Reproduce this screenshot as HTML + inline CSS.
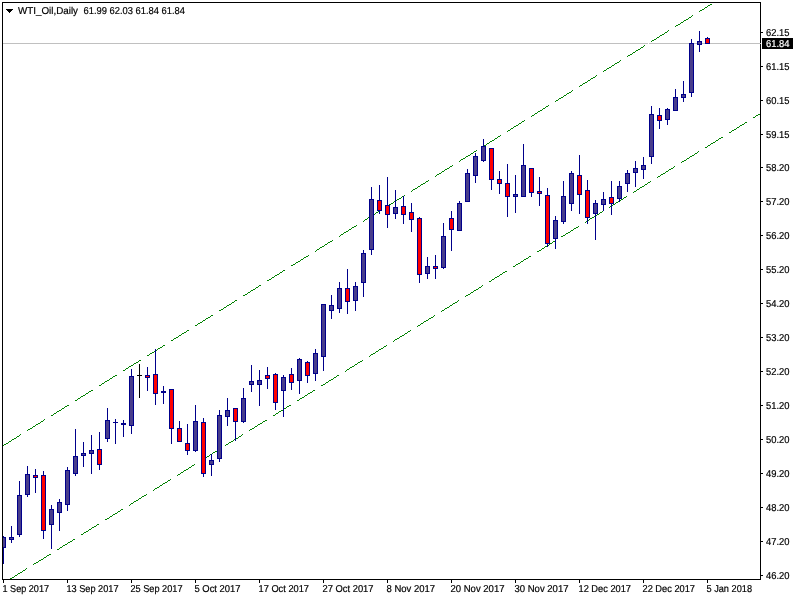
<!DOCTYPE html>
<html lang="en"><head><meta charset="utf-8"><title>WTI_Oil,Daily</title>
<style>html,body{margin:0;padding:0;background:#fff;overflow:hidden}svg{display:block}text{font-family:"Liberation Sans",Arial,sans-serif;fill:#000;stroke:#000;stroke-width:.2px;text-rendering:geometricPrecision}</style>
</head><body>
<svg width="800" height="600" viewBox="0 0 800 600" shape-rendering="crispEdges">
<rect x="0" y="0" width="800" height="600" fill="#fff"/>
<rect x="3" y="43" width="757" height="1" fill="#c0c0c0"/>
<rect x="648" y="43" width="1" height="1" fill="#fff"/>
<path fill="#008000" d="M3 445h1v1h-1zM4 444h2v1h-2zM6 443h2v1h-2zM8 442h1v1h-1zM9 441h2v1h-2zM11 440h1v1h-1zM12 439h2v1h-2zM14 438h2v1h-2zM16 437h1v1h-1zM17 436h2v1h-2zM19 435h1v1h-1zM20 434h1v1h-1zM27 430h1v1h-1zM28 429h2v1h-2zM30 428h2v1h-2zM32 427h1v1h-1zM33 426h2v1h-2zM35 425h1v1h-1zM36 424h2v1h-2zM38 423h2v1h-2zM40 422h1v1h-1zM41 421h2v1h-2zM43 420h1v1h-1zM44 419h1v1h-1zM51 415h2v1h-2zM53 414h1v1h-1zM54 413h2v1h-2zM56 412h1v1h-1zM57 411h2v1h-2zM59 410h2v1h-2zM61 409h1v1h-1zM62 408h2v1h-2zM64 407h1v1h-1zM65 406h2v1h-2zM67 405h2v1h-2zM75 400h2v1h-2zM77 399h1v1h-1zM78 398h2v1h-2zM80 397h1v1h-1zM81 396h2v1h-2zM83 395h2v1h-2zM85 394h1v1h-1zM86 393h2v1h-2zM88 392h1v1h-1zM89 391h2v1h-2zM91 390h2v1h-2zM99 385h2v1h-2zM101 384h1v1h-1zM102 383h2v1h-2zM104 382h1v1h-1zM105 381h2v1h-2zM107 380h2v1h-2zM109 379h1v1h-1zM110 378h2v1h-2zM112 377h1v1h-1zM113 376h2v1h-2zM115 375h2v1h-2zM123 370h2v1h-2zM125 369h1v1h-1zM126 368h2v1h-2zM128 367h1v1h-1zM129 366h2v1h-2zM131 365h2v1h-2zM133 364h1v1h-1zM134 363h2v1h-2zM136 362h2v1h-2zM138 361h1v1h-1zM139 360h2v1h-2zM147 355h2v1h-2zM149 354h1v1h-1zM150 353h2v1h-2zM152 352h2v1h-2zM154 351h1v1h-1zM155 350h2v1h-2zM157 349h1v1h-1zM158 348h2v1h-2zM160 347h2v1h-2zM162 346h1v1h-1zM163 345h2v1h-2zM171 340h2v1h-2zM173 339h1v1h-1zM174 338h2v1h-2zM176 337h2v1h-2zM178 336h1v1h-1zM179 335h2v1h-2zM181 334h1v1h-1zM182 333h2v1h-2zM184 332h2v1h-2zM186 331h1v1h-1zM187 330h2v1h-2zM195 325h2v1h-2zM197 324h1v1h-1zM198 323h2v1h-2zM200 322h2v1h-2zM202 321h1v1h-1zM203 320h2v1h-2zM205 319h1v1h-1zM206 318h2v1h-2zM208 317h2v1h-2zM210 316h1v1h-1zM211 315h2v1h-2zM219 310h2v1h-2zM221 309h2v1h-2zM223 308h1v1h-1zM224 307h2v1h-2zM226 306h1v1h-1zM227 305h2v1h-2zM229 304h2v1h-2zM231 303h1v1h-1zM232 302h2v1h-2zM234 301h1v1h-1zM235 300h2v1h-2zM243 295h2v1h-2zM245 294h2v1h-2zM247 293h1v1h-1zM248 292h2v1h-2zM250 291h1v1h-1zM251 290h2v1h-2zM253 289h2v1h-2zM255 288h1v1h-1zM256 287h2v1h-2zM258 286h1v1h-1zM259 285h2v1h-2zM267 280h2v1h-2zM269 279h2v1h-2zM271 278h1v1h-1zM272 277h2v1h-2zM274 276h1v1h-1zM275 275h2v1h-2zM277 274h2v1h-2zM279 273h1v1h-1zM280 272h2v1h-2zM282 271h1v1h-1zM283 270h2v1h-2zM291 265h2v1h-2zM293 264h2v1h-2zM295 263h1v1h-1zM296 262h2v1h-2zM298 261h2v1h-2zM300 260h1v1h-1zM301 259h2v1h-2zM303 258h1v1h-1zM304 257h2v1h-2zM306 256h2v1h-2zM308 255h1v1h-1zM315 251h1v1h-1zM316 250h1v1h-1zM317 249h2v1h-2zM319 248h1v1h-1zM320 247h2v1h-2zM322 246h2v1h-2zM324 245h1v1h-1zM325 244h2v1h-2zM327 243h1v1h-1zM328 242h2v1h-2zM330 241h2v1h-2zM332 240h1v1h-1zM339 236h1v1h-1zM340 235h1v1h-1zM341 234h2v1h-2zM343 233h1v1h-1zM344 232h2v1h-2zM346 231h2v1h-2zM348 230h1v1h-1zM349 229h2v1h-2zM351 228h1v1h-1zM352 227h2v1h-2zM354 226h2v1h-2zM356 225h1v1h-1zM363 221h1v1h-1zM364 220h1v1h-1zM365 219h2v1h-2zM367 218h1v1h-1zM368 217h2v1h-2zM370 216h2v1h-2zM372 215h1v1h-1zM373 214h2v1h-2zM375 213h1v1h-1zM376 212h2v1h-2zM378 211h2v1h-2zM380 210h1v1h-1zM387 206h1v1h-1zM388 205h1v1h-1zM389 204h2v1h-2zM391 203h2v1h-2zM393 202h1v1h-1zM394 201h2v1h-2zM396 200h1v1h-1zM397 199h2v1h-2zM399 198h2v1h-2zM401 197h1v1h-1zM402 196h2v1h-2zM404 195h1v1h-1zM411 191h1v1h-1zM412 190h1v1h-1zM413 189h2v1h-2zM415 188h2v1h-2zM417 187h1v1h-1zM418 186h2v1h-2zM420 185h1v1h-1zM421 184h2v1h-2zM423 183h2v1h-2zM425 182h1v1h-1zM426 181h2v1h-2zM428 180h1v1h-1zM435 176h1v1h-1zM436 175h1v1h-1zM437 174h2v1h-2zM439 173h2v1h-2zM441 172h1v1h-1zM442 171h2v1h-2zM444 170h1v1h-1zM445 169h2v1h-2zM447 168h2v1h-2zM449 167h1v1h-1zM450 166h2v1h-2zM452 165h1v1h-1zM459 161h1v1h-1zM460 160h1v1h-1zM461 159h2v1h-2zM463 158h2v1h-2zM465 157h1v1h-1zM466 156h2v1h-2zM468 155h2v1h-2zM470 154h1v1h-1zM471 153h2v1h-2zM473 152h1v1h-1zM474 151h2v1h-2zM476 150h1v1h-1zM483 146h1v1h-1zM484 145h2v1h-2zM486 144h1v1h-1zM487 143h2v1h-2zM489 142h1v1h-1zM490 141h2v1h-2zM492 140h2v1h-2zM494 139h1v1h-1zM495 138h2v1h-2zM497 137h1v1h-1zM498 136h2v1h-2zM500 135h1v1h-1zM507 131h1v1h-1zM508 130h2v1h-2zM510 129h1v1h-1zM511 128h2v1h-2zM513 127h1v1h-1zM514 126h2v1h-2zM516 125h2v1h-2zM518 124h1v1h-1zM519 123h2v1h-2zM521 122h1v1h-1zM522 121h2v1h-2zM524 120h1v1h-1zM531 116h1v1h-1zM532 115h2v1h-2zM534 114h1v1h-1zM535 113h2v1h-2zM537 112h1v1h-1zM538 111h2v1h-2zM540 110h2v1h-2zM542 109h1v1h-1zM543 108h2v1h-2zM545 107h1v1h-1zM546 106h2v1h-2zM548 105h1v1h-1zM555 101h1v1h-1zM556 100h2v1h-2zM558 99h1v1h-1zM559 98h2v1h-2zM561 97h2v1h-2zM563 96h1v1h-1zM564 95h2v1h-2zM566 94h1v1h-1zM567 93h2v1h-2zM569 92h2v1h-2zM571 91h1v1h-1zM572 90h1v1h-1zM579 86h1v1h-1zM580 85h2v1h-2zM582 84h1v1h-1zM583 83h2v1h-2zM585 82h2v1h-2zM587 81h1v1h-1zM588 80h2v1h-2zM590 79h1v1h-1zM591 78h2v1h-2zM593 77h2v1h-2zM595 76h1v1h-1zM596 75h1v1h-1zM603 71h1v1h-1zM604 70h2v1h-2zM606 69h1v1h-1zM607 68h2v1h-2zM609 67h2v1h-2zM611 66h1v1h-1zM612 65h2v1h-2zM614 64h1v1h-1zM615 63h2v1h-2zM617 62h2v1h-2zM619 61h1v1h-1zM620 60h1v1h-1zM627 56h1v1h-1zM628 55h2v1h-2zM630 54h2v1h-2zM632 53h1v1h-1zM633 52h2v1h-2zM635 51h1v1h-1zM636 50h2v1h-2zM638 49h2v1h-2zM640 48h1v1h-1zM641 47h2v1h-2zM643 46h1v1h-1zM644 45h1v1h-1zM651 41h1v1h-1zM652 40h2v1h-2zM654 39h2v1h-2zM656 38h1v1h-1zM657 37h2v1h-2zM659 36h1v1h-1zM660 35h2v1h-2zM662 34h2v1h-2zM664 33h1v1h-1zM665 32h2v1h-2zM667 31h1v1h-1zM668 30h1v1h-1zM675 26h1v1h-1zM676 25h2v1h-2zM678 24h2v1h-2zM680 23h1v1h-1zM681 22h2v1h-2zM683 21h1v1h-1zM684 20h2v1h-2zM686 19h2v1h-2zM688 18h1v1h-1zM689 17h2v1h-2zM691 16h1v1h-1zM692 15h1v1h-1zM699 11h1v1h-1zM700 10h2v1h-2zM702 9h2v1h-2zM704 8h1v1h-1zM705 7h2v1h-2zM707 6h1v1h-1zM708 5h2v1h-2zM710 4h2v1h-2z"/>
<path fill="#008000" d="M10 578h2v1h-2zM12 577h2v1h-2zM14 576h1v1h-1zM15 575h2v1h-2zM17 574h1v1h-1zM18 573h2v1h-2zM20 572h2v1h-2zM22 571h1v1h-1zM23 570h2v1h-2zM25 569h1v1h-1zM26 568h1v1h-1zM33 564h1v1h-1zM34 563h2v1h-2zM36 562h2v1h-2zM38 561h1v1h-1zM39 560h2v1h-2zM41 559h2v1h-2zM43 558h1v1h-1zM44 557h2v1h-2zM46 556h1v1h-1zM47 555h2v1h-2zM49 554h2v1h-2zM57 549h2v1h-2zM59 548h1v1h-1zM60 547h2v1h-2zM62 546h1v1h-1zM63 545h2v1h-2zM65 544h2v1h-2zM67 543h1v1h-1zM68 542h2v1h-2zM70 541h2v1h-2zM72 540h1v1h-1zM73 539h2v1h-2zM81 534h2v1h-2zM83 533h1v1h-1zM84 532h2v1h-2zM86 531h2v1h-2zM88 530h1v1h-1zM89 529h2v1h-2zM91 528h1v1h-1zM92 527h2v1h-2zM94 526h2v1h-2zM96 525h1v1h-1zM97 524h2v1h-2zM105 519h2v1h-2zM107 518h2v1h-2zM109 517h1v1h-1zM110 516h2v1h-2zM112 515h1v1h-1zM113 514h2v1h-2zM115 513h2v1h-2zM117 512h1v1h-1zM118 511h2v1h-2zM120 510h1v1h-1zM121 509h2v1h-2zM129 505h1v1h-1zM130 504h1v1h-1zM131 503h2v1h-2zM133 502h1v1h-1zM134 501h2v1h-2zM136 500h2v1h-2zM138 499h1v1h-1zM139 498h2v1h-2zM141 497h1v1h-1zM142 496h2v1h-2zM144 495h2v1h-2zM146 494h1v1h-1zM153 490h1v1h-1zM154 489h1v1h-1zM155 488h2v1h-2zM157 487h2v1h-2zM159 486h1v1h-1zM160 485h2v1h-2zM162 484h1v1h-1zM163 483h2v1h-2zM165 482h2v1h-2zM167 481h1v1h-1zM168 480h2v1h-2zM170 479h1v1h-1zM177 475h1v1h-1zM178 474h2v1h-2zM180 473h1v1h-1zM181 472h2v1h-2zM183 471h1v1h-1zM184 470h2v1h-2zM186 469h2v1h-2zM188 468h1v1h-1zM189 467h2v1h-2zM191 466h1v1h-1zM192 465h2v1h-2zM194 464h1v1h-1zM201 460h1v1h-1zM202 459h2v1h-2zM204 458h1v1h-1zM205 457h2v1h-2zM207 456h2v1h-2zM209 455h1v1h-1zM210 454h2v1h-2zM212 453h1v1h-1zM213 452h2v1h-2zM215 451h2v1h-2zM217 450h1v1h-1zM218 449h1v1h-1zM225 445h1v1h-1zM226 444h2v1h-2zM228 443h1v1h-1zM229 442h2v1h-2zM231 441h2v1h-2zM233 440h1v1h-1zM234 439h2v1h-2zM236 438h2v1h-2zM238 437h1v1h-1zM239 436h2v1h-2zM241 435h1v1h-1zM242 434h1v1h-1zM249 430h1v1h-1zM250 429h2v1h-2zM252 428h2v1h-2zM254 427h1v1h-1zM255 426h2v1h-2zM257 425h1v1h-1zM258 424h2v1h-2zM260 423h2v1h-2zM262 422h1v1h-1zM263 421h2v1h-2zM265 420h2v1h-2zM273 415h2v1h-2zM275 414h1v1h-1zM276 413h2v1h-2zM278 412h1v1h-1zM279 411h2v1h-2zM281 410h2v1h-2zM283 409h1v1h-1zM284 408h2v1h-2zM286 407h1v1h-1zM287 406h2v1h-2zM289 405h2v1h-2zM297 400h2v1h-2zM299 399h1v1h-1zM300 398h2v1h-2zM302 397h2v1h-2zM304 396h1v1h-1zM305 395h2v1h-2zM307 394h1v1h-1zM308 393h2v1h-2zM310 392h2v1h-2zM312 391h1v1h-1zM313 390h2v1h-2zM321 385h2v1h-2zM323 384h2v1h-2zM325 383h1v1h-1zM326 382h2v1h-2zM328 381h1v1h-1zM329 380h2v1h-2zM331 379h2v1h-2zM333 378h1v1h-1zM334 377h2v1h-2zM336 376h1v1h-1zM337 375h2v1h-2zM345 371h1v1h-1zM346 370h1v1h-1zM347 369h2v1h-2zM349 368h1v1h-1zM350 367h2v1h-2zM352 366h2v1h-2zM354 365h1v1h-1zM355 364h2v1h-2zM357 363h1v1h-1zM358 362h2v1h-2zM360 361h2v1h-2zM362 360h1v1h-1zM369 356h1v1h-1zM370 355h1v1h-1zM371 354h2v1h-2zM373 353h2v1h-2zM375 352h1v1h-1zM376 351h2v1h-2zM378 350h1v1h-1zM379 349h2v1h-2zM381 348h2v1h-2zM383 347h1v1h-1zM384 346h2v1h-2zM386 345h1v1h-1zM393 341h1v1h-1zM394 340h1v1h-1zM395 339h2v1h-2zM397 338h2v1h-2zM399 337h1v1h-1zM400 336h2v1h-2zM402 335h2v1h-2zM404 334h1v1h-1zM405 333h2v1h-2zM407 332h1v1h-1zM408 331h2v1h-2zM410 330h1v1h-1zM417 326h1v1h-1zM418 325h2v1h-2zM420 324h1v1h-1zM421 323h2v1h-2zM423 322h1v1h-1zM424 321h2v1h-2zM426 320h2v1h-2zM428 319h1v1h-1zM429 318h2v1h-2zM431 317h2v1h-2zM433 316h1v1h-1zM434 315h1v1h-1zM441 311h1v1h-1zM442 310h2v1h-2zM444 309h1v1h-1zM445 308h2v1h-2zM447 307h2v1h-2zM449 306h1v1h-1zM450 305h2v1h-2zM452 304h1v1h-1zM453 303h2v1h-2zM455 302h2v1h-2zM457 301h1v1h-1zM458 300h1v1h-1zM465 296h1v1h-1zM466 295h2v1h-2zM468 294h2v1h-2zM470 293h1v1h-1zM471 292h2v1h-2zM473 291h1v1h-1zM474 290h2v1h-2zM476 289h2v1h-2zM478 288h1v1h-1zM479 287h2v1h-2zM481 286h1v1h-1zM482 285h1v1h-1zM489 281h2v1h-2zM491 280h1v1h-1zM492 279h2v1h-2zM494 278h1v1h-1zM495 277h2v1h-2zM497 276h2v1h-2zM499 275h1v1h-1zM500 274h2v1h-2zM502 273h1v1h-1zM503 272h2v1h-2zM505 271h2v1h-2zM513 266h2v1h-2zM515 265h1v1h-1zM516 264h2v1h-2zM518 263h2v1h-2zM520 262h1v1h-1zM521 261h2v1h-2zM523 260h1v1h-1zM524 259h2v1h-2zM526 258h2v1h-2zM528 257h1v1h-1zM529 256h2v1h-2zM537 251h2v1h-2zM539 250h2v1h-2zM541 249h1v1h-1zM542 248h2v1h-2zM544 247h1v1h-1zM545 246h2v1h-2zM547 245h2v1h-2zM549 244h1v1h-1zM550 243h2v1h-2zM552 242h1v1h-1zM553 241h2v1h-2zM561 236h2v1h-2zM563 235h2v1h-2zM565 234h1v1h-1zM566 233h2v1h-2zM568 232h2v1h-2zM570 231h1v1h-1zM571 230h2v1h-2zM573 229h1v1h-1zM574 228h2v1h-2zM576 227h2v1h-2zM578 226h1v1h-1zM585 222h1v1h-1zM586 221h1v1h-1zM587 220h2v1h-2zM589 219h1v1h-1zM590 218h2v1h-2zM592 217h2v1h-2zM594 216h1v1h-1zM595 215h2v1h-2zM597 214h2v1h-2zM599 213h1v1h-1zM600 212h2v1h-2zM602 211h1v1h-1zM609 207h1v1h-1zM610 206h1v1h-1zM611 205h2v1h-2zM613 204h2v1h-2zM615 203h1v1h-1zM616 202h2v1h-2zM618 201h1v1h-1zM619 200h2v1h-2zM621 199h2v1h-2zM623 198h1v1h-1zM624 197h2v1h-2zM626 196h1v1h-1zM633 192h1v1h-1zM634 191h2v1h-2zM636 190h1v1h-1zM637 189h2v1h-2zM639 188h1v1h-1zM640 187h2v1h-2zM642 186h2v1h-2zM644 185h1v1h-1zM645 184h2v1h-2zM647 183h1v1h-1zM648 182h2v1h-2zM650 181h1v1h-1zM657 177h1v1h-1zM658 176h2v1h-2zM660 175h1v1h-1zM661 174h2v1h-2zM663 173h2v1h-2zM665 172h1v1h-1zM666 171h2v1h-2zM668 170h1v1h-1zM669 169h2v1h-2zM671 168h2v1h-2zM673 167h1v1h-1zM674 166h1v1h-1zM681 162h1v1h-1zM682 161h2v1h-2zM684 160h2v1h-2zM686 159h1v1h-1zM687 158h2v1h-2zM689 157h1v1h-1zM690 156h2v1h-2zM692 155h2v1h-2zM694 154h1v1h-1zM695 153h2v1h-2zM697 152h1v1h-1zM698 151h1v1h-1zM705 147h2v1h-2zM707 146h1v1h-1zM708 145h2v1h-2zM710 144h1v1h-1zM711 143h2v1h-2zM713 142h2v1h-2zM715 141h1v1h-1zM716 140h2v1h-2zM718 139h1v1h-1zM719 138h2v1h-2zM721 137h2v1h-2zM729 132h2v1h-2zM731 131h1v1h-1zM732 130h2v1h-2zM734 129h2v1h-2zM736 128h1v1h-1zM737 127h2v1h-2zM739 126h1v1h-1zM740 125h2v1h-2zM742 124h2v1h-2zM744 123h1v1h-1zM745 122h2v1h-2zM753 117h2v1h-2zM755 116h1v1h-1zM756 115h2v1h-2zM758 114h2v1h-2z"/>
<clipPath id="cp"><rect x="2" y="3" width="758" height="576"/></clipPath>
<g clip-path="url(#cp)">
<rect x="3" y="536" width="1" height="28" fill="#00008b"/>
<rect x="1" y="537" width="5" height="11" fill="#00008b"/>
<rect x="2" y="538" width="3" height="9" fill="#483d8b"/>
<rect x="11" y="526" width="1" height="17" fill="#00008b"/>
<rect x="9" y="537" width="5" height="3" fill="#00008b"/>
<rect x="10" y="538" width="3" height="1" fill="#483d8b"/>
<rect x="19" y="481" width="1" height="56" fill="#00008b"/>
<rect x="17" y="495" width="5" height="40" fill="#00008b"/>
<rect x="18" y="496" width="3" height="38" fill="#483d8b"/>
<rect x="27" y="466" width="1" height="31" fill="#00008b"/>
<rect x="25" y="474" width="5" height="21" fill="#00008b"/>
<rect x="26" y="475" width="3" height="19" fill="#483d8b"/>
<rect x="35" y="469" width="1" height="24" fill="#00008b"/>
<rect x="33" y="475" width="5" height="3" fill="#00008b"/>
<rect x="34" y="476" width="3" height="1" fill="#ff0000"/>
<rect x="43" y="471" width="1" height="68" fill="#00008b"/>
<rect x="41" y="475" width="5" height="56" fill="#00008b"/>
<rect x="42" y="476" width="3" height="54" fill="#ff0000"/>
<rect x="51" y="505" width="1" height="44" fill="#00008b"/>
<rect x="49" y="509" width="5" height="16" fill="#00008b"/>
<rect x="50" y="510" width="3" height="14" fill="#483d8b"/>
<rect x="59" y="499" width="1" height="32" fill="#00008b"/>
<rect x="57" y="502" width="5" height="11" fill="#00008b"/>
<rect x="58" y="503" width="3" height="9" fill="#483d8b"/>
<rect x="67" y="467" width="1" height="44" fill="#00008b"/>
<rect x="65" y="470" width="5" height="35" fill="#00008b"/>
<rect x="66" y="471" width="3" height="33" fill="#483d8b"/>
<rect x="75" y="429" width="1" height="47" fill="#00008b"/>
<rect x="73" y="456" width="5" height="18" fill="#00008b"/>
<rect x="74" y="457" width="3" height="16" fill="#483d8b"/>
<rect x="83" y="442" width="1" height="25" fill="#00008b"/>
<rect x="81" y="453" width="5" height="3" fill="#00008b"/>
<rect x="82" y="454" width="3" height="1" fill="#483d8b"/>
<rect x="91" y="435" width="1" height="39" fill="#00008b"/>
<rect x="89" y="450" width="5" height="4" fill="#00008b"/>
<rect x="90" y="451" width="3" height="2" fill="#483d8b"/>
<rect x="99" y="432" width="1" height="38" fill="#00008b"/>
<rect x="97" y="449" width="5" height="16" fill="#00008b"/>
<rect x="98" y="450" width="3" height="14" fill="#ff0000"/>
<rect x="107" y="408" width="1" height="34" fill="#00008b"/>
<rect x="105" y="420" width="5" height="19" fill="#00008b"/>
<rect x="106" y="421" width="3" height="17" fill="#483d8b"/>
<rect x="115" y="419" width="1" height="25" fill="#00008b"/>
<rect x="113" y="422" width="5" height="1" fill="#00008b"/>
<rect x="123" y="420" width="1" height="17" fill="#00008b"/>
<rect x="121" y="423" width="5" height="2" fill="#00008b"/>
<rect x="131" y="369" width="1" height="65" fill="#00008b"/>
<rect x="129" y="376" width="5" height="50" fill="#00008b"/>
<rect x="130" y="377" width="3" height="48" fill="#483d8b"/>
<rect x="139" y="364" width="1" height="34" fill="#000"/>
<rect x="137" y="375" width="5" height="1" fill="#000"/>
<rect x="147" y="367" width="1" height="24" fill="#00008b"/>
<rect x="145" y="375" width="5" height="3" fill="#00008b"/>
<rect x="146" y="376" width="3" height="1" fill="#ff0000"/>
<rect x="155" y="349" width="1" height="56" fill="#00008b"/>
<rect x="153" y="374" width="5" height="20" fill="#00008b"/>
<rect x="154" y="375" width="3" height="18" fill="#ff0000"/>
<rect x="163" y="386" width="1" height="18" fill="#00008b"/>
<rect x="161" y="391" width="5" height="2" fill="#00008b"/>
<rect x="171" y="389" width="1" height="55" fill="#00008b"/>
<rect x="169" y="389" width="5" height="40" fill="#00008b"/>
<rect x="170" y="390" width="3" height="38" fill="#ff0000"/>
<rect x="179" y="421" width="1" height="21" fill="#00008b"/>
<rect x="177" y="428" width="5" height="14" fill="#00008b"/>
<rect x="178" y="429" width="3" height="12" fill="#ff0000"/>
<rect x="187" y="424" width="1" height="31" fill="#00008b"/>
<rect x="185" y="443" width="5" height="8" fill="#00008b"/>
<rect x="186" y="444" width="3" height="6" fill="#ff0000"/>
<rect x="195" y="405" width="1" height="47" fill="#00008b"/>
<rect x="193" y="421" width="5" height="30" fill="#00008b"/>
<rect x="194" y="422" width="3" height="28" fill="#483d8b"/>
<rect x="203" y="418" width="1" height="59" fill="#00008b"/>
<rect x="201" y="422" width="5" height="52" fill="#00008b"/>
<rect x="202" y="423" width="3" height="50" fill="#ff0000"/>
<rect x="211" y="454" width="1" height="22" fill="#00008b"/>
<rect x="209" y="460" width="5" height="5" fill="#00008b"/>
<rect x="210" y="461" width="3" height="3" fill="#483d8b"/>
<rect x="219" y="410" width="1" height="52" fill="#00008b"/>
<rect x="217" y="415" width="5" height="44" fill="#00008b"/>
<rect x="218" y="416" width="3" height="42" fill="#483d8b"/>
<rect x="227" y="398" width="1" height="28" fill="#00008b"/>
<rect x="225" y="410" width="5" height="7" fill="#00008b"/>
<rect x="226" y="411" width="3" height="5" fill="#483d8b"/>
<rect x="235" y="408" width="1" height="33" fill="#00008b"/>
<rect x="233" y="408" width="5" height="14" fill="#00008b"/>
<rect x="234" y="409" width="3" height="12" fill="#ff0000"/>
<rect x="243" y="388" width="1" height="35" fill="#00008b"/>
<rect x="241" y="398" width="5" height="24" fill="#00008b"/>
<rect x="242" y="399" width="3" height="22" fill="#483d8b"/>
<rect x="251" y="365" width="1" height="27" fill="#00008b"/>
<rect x="249" y="381" width="5" height="4" fill="#00008b"/>
<rect x="250" y="382" width="3" height="2" fill="#483d8b"/>
<rect x="259" y="370" width="1" height="36" fill="#00008b"/>
<rect x="257" y="380" width="5" height="5" fill="#00008b"/>
<rect x="258" y="381" width="3" height="3" fill="#483d8b"/>
<rect x="267" y="367" width="1" height="22" fill="#00008b"/>
<rect x="265" y="375" width="5" height="4" fill="#00008b"/>
<rect x="266" y="376" width="3" height="2" fill="#ff0000"/>
<rect x="275" y="373" width="1" height="37" fill="#00008b"/>
<rect x="273" y="374" width="5" height="29" fill="#00008b"/>
<rect x="274" y="375" width="3" height="27" fill="#ff0000"/>
<rect x="283" y="375" width="1" height="42" fill="#00008b"/>
<rect x="281" y="377" width="5" height="14" fill="#00008b"/>
<rect x="282" y="378" width="3" height="12" fill="#483d8b"/>
<rect x="291" y="368" width="1" height="22" fill="#00008b"/>
<rect x="289" y="374" width="5" height="9" fill="#00008b"/>
<rect x="290" y="375" width="3" height="7" fill="#ff0000"/>
<rect x="299" y="358" width="1" height="36" fill="#00008b"/>
<rect x="297" y="359" width="5" height="22" fill="#00008b"/>
<rect x="298" y="360" width="3" height="20" fill="#483d8b"/>
<rect x="307" y="361" width="1" height="22" fill="#00008b"/>
<rect x="305" y="362" width="5" height="14" fill="#00008b"/>
<rect x="306" y="363" width="3" height="12" fill="#ff0000"/>
<rect x="315" y="349" width="1" height="32" fill="#00008b"/>
<rect x="313" y="353" width="5" height="21" fill="#00008b"/>
<rect x="314" y="354" width="3" height="19" fill="#483d8b"/>
<rect x="323" y="304" width="1" height="67" fill="#00008b"/>
<rect x="321" y="304" width="5" height="53" fill="#00008b"/>
<rect x="322" y="305" width="3" height="51" fill="#483d8b"/>
<rect x="331" y="295" width="1" height="24" fill="#00008b"/>
<rect x="329" y="305" width="5" height="6" fill="#00008b"/>
<rect x="330" y="306" width="3" height="4" fill="#483d8b"/>
<rect x="339" y="282" width="1" height="31" fill="#00008b"/>
<rect x="337" y="288" width="5" height="21" fill="#00008b"/>
<rect x="338" y="289" width="3" height="19" fill="#483d8b"/>
<rect x="347" y="269" width="1" height="45" fill="#00008b"/>
<rect x="345" y="288" width="5" height="14" fill="#00008b"/>
<rect x="346" y="289" width="3" height="12" fill="#ff0000"/>
<rect x="355" y="282" width="1" height="29" fill="#00008b"/>
<rect x="353" y="286" width="5" height="15" fill="#00008b"/>
<rect x="354" y="287" width="3" height="13" fill="#483d8b"/>
<rect x="363" y="250" width="1" height="47" fill="#00008b"/>
<rect x="361" y="253" width="5" height="30" fill="#00008b"/>
<rect x="362" y="254" width="3" height="28" fill="#483d8b"/>
<rect x="371" y="187" width="1" height="68" fill="#00008b"/>
<rect x="369" y="199" width="5" height="51" fill="#00008b"/>
<rect x="370" y="200" width="3" height="49" fill="#483d8b"/>
<rect x="379" y="185" width="1" height="29" fill="#00008b"/>
<rect x="377" y="200" width="5" height="11" fill="#00008b"/>
<rect x="378" y="201" width="3" height="9" fill="#ff0000"/>
<rect x="387" y="177" width="1" height="51" fill="#00008b"/>
<rect x="385" y="205" width="5" height="10" fill="#00008b"/>
<rect x="386" y="206" width="3" height="8" fill="#ff0000"/>
<rect x="395" y="190" width="1" height="29" fill="#00008b"/>
<rect x="393" y="207" width="5" height="7" fill="#00008b"/>
<rect x="394" y="208" width="3" height="5" fill="#483d8b"/>
<rect x="403" y="196" width="1" height="28" fill="#00008b"/>
<rect x="401" y="206" width="5" height="9" fill="#00008b"/>
<rect x="402" y="207" width="3" height="7" fill="#ff0000"/>
<rect x="411" y="203" width="1" height="29" fill="#00008b"/>
<rect x="409" y="212" width="5" height="8" fill="#00008b"/>
<rect x="410" y="213" width="3" height="6" fill="#ff0000"/>
<rect x="419" y="217" width="1" height="66" fill="#00008b"/>
<rect x="417" y="218" width="5" height="57" fill="#00008b"/>
<rect x="418" y="219" width="3" height="55" fill="#ff0000"/>
<rect x="427" y="257" width="1" height="22" fill="#00008b"/>
<rect x="425" y="266" width="5" height="8" fill="#00008b"/>
<rect x="426" y="267" width="3" height="6" fill="#483d8b"/>
<rect x="435" y="255" width="1" height="24" fill="#00008b"/>
<rect x="433" y="266" width="5" height="3" fill="#00008b"/>
<rect x="434" y="267" width="3" height="1" fill="#ff0000"/>
<rect x="443" y="223" width="1" height="46" fill="#00008b"/>
<rect x="441" y="236" width="5" height="32" fill="#00008b"/>
<rect x="442" y="237" width="3" height="30" fill="#483d8b"/>
<rect x="451" y="211" width="1" height="40" fill="#00008b"/>
<rect x="449" y="218" width="5" height="12" fill="#00008b"/>
<rect x="450" y="219" width="3" height="10" fill="#ff0000"/>
<rect x="459" y="201" width="1" height="30" fill="#00008b"/>
<rect x="457" y="203" width="5" height="28" fill="#00008b"/>
<rect x="458" y="204" width="3" height="26" fill="#483d8b"/>
<rect x="467" y="169" width="1" height="33" fill="#00008b"/>
<rect x="465" y="173" width="5" height="29" fill="#00008b"/>
<rect x="466" y="174" width="3" height="27" fill="#483d8b"/>
<rect x="475" y="153" width="1" height="30" fill="#00008b"/>
<rect x="473" y="156" width="5" height="20" fill="#00008b"/>
<rect x="474" y="157" width="3" height="18" fill="#483d8b"/>
<rect x="483" y="139" width="1" height="23" fill="#00008b"/>
<rect x="481" y="146" width="5" height="15" fill="#00008b"/>
<rect x="482" y="147" width="3" height="13" fill="#483d8b"/>
<rect x="491" y="148" width="1" height="42" fill="#00008b"/>
<rect x="489" y="148" width="5" height="32" fill="#00008b"/>
<rect x="490" y="149" width="3" height="30" fill="#ff0000"/>
<rect x="499" y="171" width="1" height="23" fill="#00008b"/>
<rect x="497" y="179" width="5" height="5" fill="#00008b"/>
<rect x="498" y="180" width="3" height="3" fill="#ff0000"/>
<rect x="507" y="164" width="1" height="53" fill="#00008b"/>
<rect x="505" y="183" width="5" height="14" fill="#00008b"/>
<rect x="506" y="184" width="3" height="12" fill="#ff0000"/>
<rect x="515" y="175" width="1" height="38" fill="#00008b"/>
<rect x="513" y="194" width="5" height="3" fill="#00008b"/>
<rect x="514" y="195" width="3" height="1" fill="#483d8b"/>
<rect x="523" y="144" width="1" height="53" fill="#00008b"/>
<rect x="521" y="165" width="5" height="32" fill="#00008b"/>
<rect x="522" y="166" width="3" height="30" fill="#483d8b"/>
<rect x="531" y="168" width="1" height="29" fill="#00008b"/>
<rect x="529" y="168" width="5" height="25" fill="#00008b"/>
<rect x="530" y="169" width="3" height="23" fill="#ff0000"/>
<rect x="539" y="177" width="1" height="29" fill="#00008b"/>
<rect x="537" y="191" width="5" height="3" fill="#00008b"/>
<rect x="538" y="192" width="3" height="1" fill="#ff0000"/>
<rect x="547" y="188" width="1" height="59" fill="#00008b"/>
<rect x="545" y="195" width="5" height="49" fill="#00008b"/>
<rect x="546" y="196" width="3" height="47" fill="#ff0000"/>
<rect x="555" y="216" width="1" height="33" fill="#00008b"/>
<rect x="553" y="220" width="5" height="19" fill="#00008b"/>
<rect x="554" y="221" width="3" height="17" fill="#483d8b"/>
<rect x="563" y="181" width="1" height="43" fill="#00008b"/>
<rect x="561" y="196" width="5" height="26" fill="#00008b"/>
<rect x="562" y="197" width="3" height="24" fill="#483d8b"/>
<rect x="571" y="171" width="1" height="40" fill="#00008b"/>
<rect x="569" y="173" width="5" height="31" fill="#00008b"/>
<rect x="570" y="174" width="3" height="29" fill="#483d8b"/>
<rect x="579" y="155" width="1" height="59" fill="#00008b"/>
<rect x="577" y="175" width="5" height="20" fill="#00008b"/>
<rect x="578" y="176" width="3" height="18" fill="#ff0000"/>
<rect x="587" y="180" width="1" height="44" fill="#00008b"/>
<rect x="585" y="190" width="5" height="28" fill="#00008b"/>
<rect x="586" y="191" width="3" height="26" fill="#ff0000"/>
<rect x="595" y="200" width="1" height="40" fill="#00008b"/>
<rect x="593" y="203" width="5" height="11" fill="#00008b"/>
<rect x="594" y="204" width="3" height="9" fill="#483d8b"/>
<rect x="603" y="192" width="1" height="19" fill="#00008b"/>
<rect x="601" y="199" width="5" height="6" fill="#00008b"/>
<rect x="602" y="200" width="3" height="4" fill="#483d8b"/>
<rect x="611" y="181" width="1" height="34" fill="#00008b"/>
<rect x="609" y="197" width="5" height="7" fill="#00008b"/>
<rect x="610" y="198" width="3" height="5" fill="#ff0000"/>
<rect x="619" y="181" width="1" height="21" fill="#00008b"/>
<rect x="617" y="186" width="5" height="13" fill="#00008b"/>
<rect x="618" y="187" width="3" height="11" fill="#483d8b"/>
<rect x="627" y="170" width="1" height="22" fill="#00008b"/>
<rect x="625" y="173" width="5" height="11" fill="#00008b"/>
<rect x="626" y="174" width="3" height="9" fill="#483d8b"/>
<rect x="635" y="161" width="1" height="26" fill="#00008b"/>
<rect x="633" y="168" width="5" height="5" fill="#00008b"/>
<rect x="634" y="169" width="3" height="3" fill="#483d8b"/>
<rect x="643" y="157" width="1" height="22" fill="#00008b"/>
<rect x="641" y="165" width="5" height="5" fill="#00008b"/>
<rect x="642" y="166" width="3" height="3" fill="#483d8b"/>
<rect x="651" y="106" width="1" height="58" fill="#00008b"/>
<rect x="649" y="114" width="5" height="43" fill="#00008b"/>
<rect x="650" y="115" width="3" height="41" fill="#483d8b"/>
<rect x="659" y="108" width="1" height="21" fill="#00008b"/>
<rect x="657" y="115" width="5" height="6" fill="#00008b"/>
<rect x="658" y="116" width="3" height="4" fill="#ff0000"/>
<rect x="667" y="108" width="1" height="17" fill="#00008b"/>
<rect x="665" y="109" width="5" height="11" fill="#00008b"/>
<rect x="666" y="110" width="3" height="9" fill="#483d8b"/>
<rect x="675" y="89" width="1" height="22" fill="#00008b"/>
<rect x="673" y="97" width="5" height="14" fill="#00008b"/>
<rect x="674" y="98" width="3" height="12" fill="#483d8b"/>
<rect x="683" y="81" width="1" height="21" fill="#00008b"/>
<rect x="681" y="94" width="5" height="4" fill="#00008b"/>
<rect x="682" y="95" width="3" height="2" fill="#483d8b"/>
<rect x="691" y="39" width="1" height="58" fill="#00008b"/>
<rect x="689" y="43" width="5" height="50" fill="#00008b"/>
<rect x="690" y="44" width="3" height="48" fill="#483d8b"/>
<rect x="699" y="31" width="1" height="21" fill="#00008b"/>
<rect x="697" y="41" width="5" height="4" fill="#00008b"/>
<rect x="698" y="42" width="3" height="2" fill="#483d8b"/>
<rect x="707" y="37" width="1" height="7" fill="#00008b"/>
<rect x="705" y="38" width="5" height="6" fill="#00008b"/>
<rect x="706" y="39" width="3" height="4" fill="#ff0000"/>
</g>
<rect x="2" y="2" width="759" height="1" fill="#000"/>
<rect x="2" y="579" width="759" height="1" fill="#000"/>
<rect x="2" y="2" width="1" height="578" fill="#000"/>
<rect x="760" y="2" width="1" height="578" fill="#000"/>
<rect x="760" y="43" width="1" height="1" fill="#c0c0c0"/>
<rect x="761" y="32" width="2" height="1" fill="#000"/>
<text x="766" y="36" font-size="10" textLength="23.5" lengthAdjust="spacingAndGlyphs" shape-rendering="auto">62.15</text>
<rect x="761" y="66" width="2" height="1" fill="#000"/>
<text x="766" y="70" font-size="10" textLength="23.5" lengthAdjust="spacingAndGlyphs" shape-rendering="auto">61.15</text>
<rect x="761" y="100" width="2" height="1" fill="#000"/>
<text x="766" y="104" font-size="10" textLength="23.5" lengthAdjust="spacingAndGlyphs" shape-rendering="auto">60.15</text>
<rect x="761" y="134" width="2" height="1" fill="#000"/>
<text x="766" y="138" font-size="10" textLength="23.5" lengthAdjust="spacingAndGlyphs" shape-rendering="auto">59.15</text>
<rect x="761" y="167" width="2" height="1" fill="#000"/>
<text x="766" y="171" font-size="10" textLength="23.5" lengthAdjust="spacingAndGlyphs" shape-rendering="auto">58.20</text>
<rect x="761" y="201" width="2" height="1" fill="#000"/>
<text x="766" y="205" font-size="10" textLength="23.5" lengthAdjust="spacingAndGlyphs" shape-rendering="auto">57.20</text>
<rect x="761" y="235" width="2" height="1" fill="#000"/>
<text x="766" y="239" font-size="10" textLength="23.5" lengthAdjust="spacingAndGlyphs" shape-rendering="auto">56.20</text>
<rect x="761" y="269" width="2" height="1" fill="#000"/>
<text x="766" y="273" font-size="10" textLength="23.5" lengthAdjust="spacingAndGlyphs" shape-rendering="auto">55.20</text>
<rect x="761" y="303" width="2" height="1" fill="#000"/>
<text x="766" y="307" font-size="10" textLength="23.5" lengthAdjust="spacingAndGlyphs" shape-rendering="auto">54.20</text>
<rect x="761" y="337" width="2" height="1" fill="#000"/>
<text x="766" y="341" font-size="10" textLength="23.5" lengthAdjust="spacingAndGlyphs" shape-rendering="auto">53.20</text>
<rect x="761" y="371" width="2" height="1" fill="#000"/>
<text x="766" y="375" font-size="10" textLength="23.5" lengthAdjust="spacingAndGlyphs" shape-rendering="auto">52.20</text>
<rect x="761" y="405" width="2" height="1" fill="#000"/>
<text x="766" y="409" font-size="10" textLength="23.5" lengthAdjust="spacingAndGlyphs" shape-rendering="auto">51.20</text>
<rect x="761" y="439" width="2" height="1" fill="#000"/>
<text x="766" y="443" font-size="10" textLength="23.5" lengthAdjust="spacingAndGlyphs" shape-rendering="auto">50.20</text>
<rect x="761" y="473" width="2" height="1" fill="#000"/>
<text x="766" y="477" font-size="10" textLength="23.5" lengthAdjust="spacingAndGlyphs" shape-rendering="auto">49.20</text>
<rect x="761" y="507" width="2" height="1" fill="#000"/>
<text x="766" y="511" font-size="10" textLength="23.5" lengthAdjust="spacingAndGlyphs" shape-rendering="auto">48.20</text>
<rect x="761" y="541" width="2" height="1" fill="#000"/>
<text x="766" y="545" font-size="10" textLength="23.5" lengthAdjust="spacingAndGlyphs" shape-rendering="auto">47.20</text>
<rect x="761" y="575" width="2" height="1" fill="#000"/>
<text x="766" y="579" font-size="10" textLength="23.5" lengthAdjust="spacingAndGlyphs" shape-rendering="auto">46.20</text>
<rect x="762" y="38" width="31" height="11" fill="#000"/>
<text x="766" y="47" font-size="10" textLength="23.5" lengthAdjust="spacingAndGlyphs" style="fill:#fff;stroke:#fff" shape-rendering="auto">61.84</text>
<rect x="3" y="580" width="1" height="3" fill="#000"/>
<text x="2.5" y="592" font-size="10" textLength="46.5" lengthAdjust="spacingAndGlyphs" shape-rendering="auto">1 Sep 2017</text>
<rect x="67" y="580" width="1" height="3" fill="#000"/>
<text x="66.5" y="592" font-size="10" textLength="52" lengthAdjust="spacingAndGlyphs" shape-rendering="auto">13 Sep 2017</text>
<rect x="131" y="580" width="1" height="3" fill="#000"/>
<text x="130.5" y="592" font-size="10" textLength="52" lengthAdjust="spacingAndGlyphs" shape-rendering="auto">25 Sep 2017</text>
<rect x="195" y="580" width="1" height="3" fill="#000"/>
<text x="194.5" y="592" font-size="10" textLength="46" lengthAdjust="spacingAndGlyphs" shape-rendering="auto">5 Oct 2017</text>
<rect x="259" y="580" width="1" height="3" fill="#000"/>
<text x="258.5" y="592" font-size="10" textLength="50.5" lengthAdjust="spacingAndGlyphs" shape-rendering="auto">17 Oct 2017</text>
<rect x="323" y="580" width="1" height="3" fill="#000"/>
<text x="322.5" y="592" font-size="10" textLength="51" lengthAdjust="spacingAndGlyphs" shape-rendering="auto">27 Oct 2017</text>
<rect x="387" y="580" width="1" height="3" fill="#000"/>
<text x="386.5" y="592" font-size="10" textLength="48.5" lengthAdjust="spacingAndGlyphs" shape-rendering="auto">8 Nov 2017</text>
<rect x="451" y="580" width="1" height="3" fill="#000"/>
<text x="450.5" y="592" font-size="10" textLength="54" lengthAdjust="spacingAndGlyphs" shape-rendering="auto">20 Nov 2017</text>
<rect x="515" y="580" width="1" height="3" fill="#000"/>
<text x="514.5" y="592" font-size="10" textLength="54" lengthAdjust="spacingAndGlyphs" shape-rendering="auto">30 Nov 2017</text>
<rect x="579" y="580" width="1" height="3" fill="#000"/>
<text x="578.5" y="592" font-size="10" textLength="52.5" lengthAdjust="spacingAndGlyphs" shape-rendering="auto">12 Dec 2017</text>
<rect x="643" y="580" width="1" height="3" fill="#000"/>
<text x="642.5" y="592" font-size="10" textLength="52.5" lengthAdjust="spacingAndGlyphs" shape-rendering="auto">22 Dec 2017</text>
<rect x="707" y="580" width="1" height="3" fill="#000"/>
<text x="706.5" y="592" font-size="10" textLength="45.5" lengthAdjust="spacingAndGlyphs" shape-rendering="auto">5 Jan 2018</text>
<path d="M6 9h7v1h-1v1h-1v1h-1v1h-1v-1h-1v-1h-1v-1h-1z" fill="#000"/>
<text x="18" y="14" font-size="10" textLength="60" lengthAdjust="spacingAndGlyphs" shape-rendering="auto">WTI_Oil,Daily</text>
<text x="83.5" y="14" font-size="10" textLength="101.5" lengthAdjust="spacingAndGlyphs" shape-rendering="auto">61.99 62.03 61.84 61.84</text>
</svg>
</body></html>
